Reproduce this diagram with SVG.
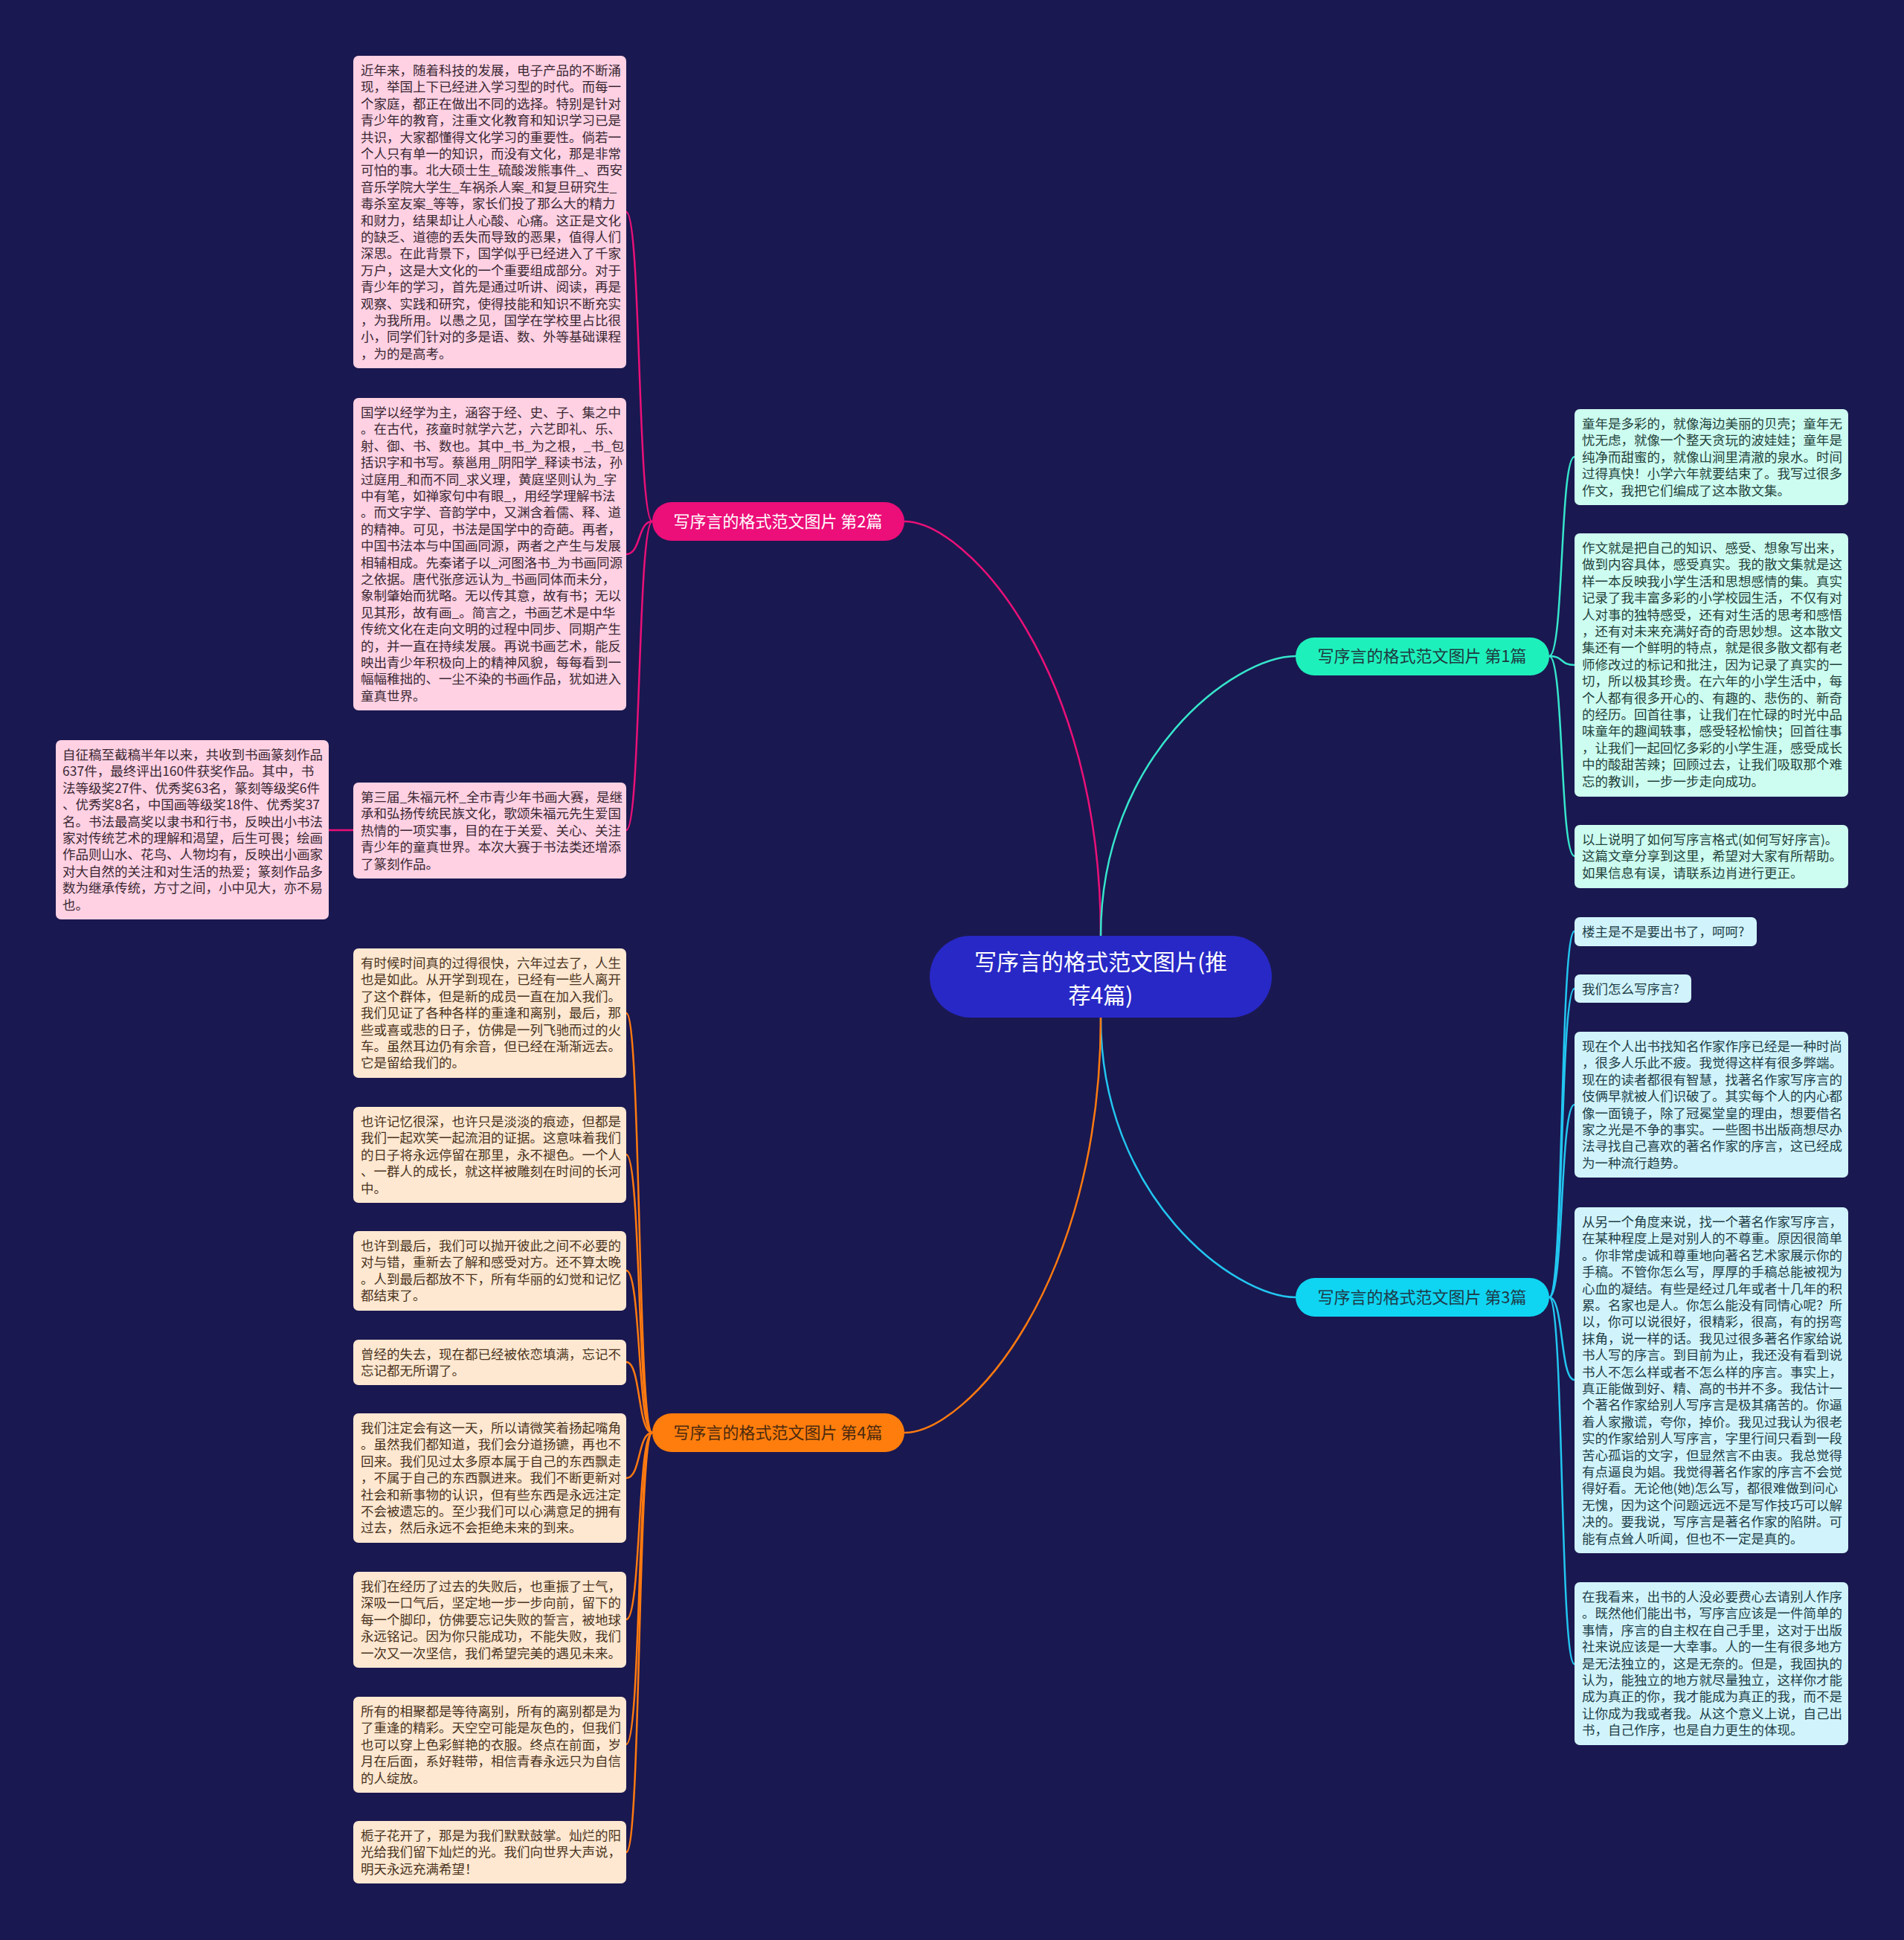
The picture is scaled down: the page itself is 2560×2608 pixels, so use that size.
<svg xmlns="http://www.w3.org/2000/svg" width="2560" height="2608" viewBox="0 0 2560 2608">
<style>
.t{font-family:"Noto Sans CJK SC","Noto Sans",sans-serif;font-size:17.5px;}
.tp{fill:#3a2833;}
.to{fill:#4a3422;}
.tg{fill:#24423c;}
.tc{fill:#223f48;}
.bp{fill:#ffd1e3;}
.bo{fill:#ffe8d1;}
.bg{fill:#cdfdf0;}
.bc{fill:#d1f4fc;}
.lbl{font-family:"Noto Sans CJK SC","Noto Sans",sans-serif;font-size:22px;text-anchor:middle;}
.c{fill:none;stroke-width:2.5;}
</style>
<rect x="0" y="0" width="2560" height="2608" fill="#1a1850"/>
<g id="connectors">
<path class="c" stroke="#ea1078" d="M1216,701 C1300,701 1480,900 1480,1258"/>
<path class="c" stroke="#36e6cc" d="M1743,882 C1659,882 1480,1017 1480,1258"/>
<path class="c" stroke="#22c6f0" d="M1743,1744 C1659,1744 1480,1609 1480,1368"/>
<path class="c" stroke="#ff7a10" d="M1216,1926 C1300,1926 1480,1726 1480,1368"/>
<g stroke="#ea1078" class="c">
<path d="M877,701 C857,701 862,285 842,285"/>
<path d="M877,701 C857,701 862,745 842,745"/>
<path d="M877,701 C857,701 862,1116 842,1116"/>
<path d="M475,1116 L442,1116"/>
</g>
<g stroke="#ff7a10" class="c">
<path d="M877,1926 C857,1926 862,1362 842,1362"/>
<path d="M877,1926 C857,1926 862,1552 842,1552"/>
<path d="M877,1926 C857,1926 862,1708 842,1708"/>
<path d="M877,1926 C857,1926 862,1831 842,1831"/>
<path d="M877,1926 C857,1926 862,1987 842,1987"/>
<path d="M877,1926 C857,1926 862,2177 842,2177"/>
<path d="M877,1926 C857,1926 862,2345 842,2345"/>
<path d="M877,1926 C857,1926 862,2490 842,2490"/>
</g>
<g stroke="#36e6cc" class="c">
<path d="M2083,882 C2103,882 2097,614 2117,614"/>
<path d="M2083,882 C2103,882 2097,894 2117,894"/>
<path d="M2083,882 C2103,882 2097,1151 2117,1151"/>
</g>
<g stroke="#22c6f0" class="c">
<path d="M2083,1744 C2103,1744 2097,1252 2117,1252"/>
<path d="M2083,1744 C2103,1744 2097,1329 2117,1329"/>
<path d="M2083,1744 C2103,1744 2097,1485 2117,1485"/>
<path d="M2083,1744 C2103,1744 2097,1855 2117,1855"/>
<path d="M2083,1744 C2103,1744 2097,2237 2117,2237"/>
</g>
</g>
<g id="root">
<rect x="1250" y="1258" width="460" height="110" rx="55" fill="#2828c6"/>
<text x="1480" y="1304" fill="#ffffff" font-family="'Noto Sans CJK SC','Noto Sans',sans-serif" font-size="30" text-anchor="middle">写序言的格式范文图片(推</text>
<text x="1480" y="1349" fill="#ffffff" font-family="'Noto Sans CJK SC','Noto Sans',sans-serif" font-size="30" text-anchor="middle">荐4篇)</text>
</g>
<g id="b2">
<rect x="877" y="675" width="339" height="52" rx="26" fill="#ec0e79"/>
<text class="lbl" x="1046" y="709" fill="#ffffff">写序言的格式范文图片 第2篇</text>
</g>
<g id="b1">
<rect x="1742" y="857" width="341" height="51" rx="25" fill="#1ef0bc"/>
<text class="lbl" x="1912" y="890" fill="#1e3a40">写序言的格式范文图片 第1篇</text>
</g>
<g id="b3">
<rect x="1742" y="1718" width="341" height="52" rx="26" fill="#0fd4f2"/>
<text class="lbl" x="1912" y="1752" fill="#1e3a48">写序言的格式范文图片 第3篇</text>
</g>
<g id="b4">
<rect x="877" y="1900" width="339" height="52" rx="26" fill="#ff7d0c"/>
<text class="lbl" x="1046" y="1934" fill="#4a2a10">写序言的格式范文图片 第4篇</text>
</g>
<g id="p1">
<rect class="bp" x="475" y="75" width="367" height="420" rx="7"/>
<text class="t tp" x="485" y="101"><tspan x="485">近年来，随着科技的发展，电子产品的不断涌</tspan><tspan x="485" dy="22.4">现，举国上下已经进入学习型的时代。而每一</tspan><tspan x="485" dy="22.4">个家庭，都正在做出不同的选择。特别是针对</tspan><tspan x="485" dy="22.4">青少年的教育，注重文化教育和知识学习已是</tspan><tspan x="485" dy="22.4">共识，大家都懂得文化学习的重要性。倘若一</tspan><tspan x="485" dy="22.4">个人只有单一的知识，而没有文化，那是非常</tspan><tspan x="485" dy="22.4">可怕的事。北大硕士生_硫酸泼熊事件_、西安</tspan><tspan x="485" dy="22.4">音乐学院大学生_车祸杀人案_和复旦研究生_</tspan><tspan x="485" dy="22.4">毒杀室友案_等等，家长们投了那么大的精力</tspan><tspan x="485" dy="22.4">和财力，结果却让人心酸、心痛。这正是文化</tspan><tspan x="485" dy="22.4">的缺乏、道德的丢失而导致的恶果，值得人们</tspan><tspan x="485" dy="22.4">深思。在此背景下，国学似乎已经进入了千家</tspan><tspan x="485" dy="22.4">万户，这是大文化的一个重要组成部分。对于</tspan><tspan x="485" dy="22.4">青少年的学习，首先是通过听讲、阅读，再是</tspan><tspan x="485" dy="22.4">观察、实践和研究，使得技能和知识不断充实</tspan><tspan x="485" dy="22.4">，为我所用。以愚之见，国学在学校里占比很</tspan><tspan x="485" dy="22.4">小，同学们针对的多是语、数、外等基础课程</tspan><tspan x="485" dy="22.4">，为的是高考。</tspan></text>
</g>
<g id="p2">
<rect class="bp" x="475" y="535" width="367" height="420" rx="7"/>
<text class="t tp" x="485" y="561"><tspan x="485">国学以经学为主，涵容于经、史、子、集之中</tspan><tspan x="485" dy="22.4">。在古代，孩童时就学六艺，六艺即礼、乐、</tspan><tspan x="485" dy="22.4">射、御、书、数也。其中_书_为之根，_书_包</tspan><tspan x="485" dy="22.4">括识字和书写。蔡邕用_阴阳学_释读书法，孙</tspan><tspan x="485" dy="22.4">过庭用_和而不同_求义理，黄庭坚则认为_字</tspan><tspan x="485" dy="22.4">中有笔，如禅家句中有眼_，用经学理解书法</tspan><tspan x="485" dy="22.4">。而文字学、音韵学中，又渊含着儒、释、道</tspan><tspan x="485" dy="22.4">的精神。可见，书法是国学中的奇葩。再者，</tspan><tspan x="485" dy="22.4">中国书法本与中国画同源，两者之产生与发展</tspan><tspan x="485" dy="22.4">相辅相成。先秦诸子以_河图洛书_为书画同源</tspan><tspan x="485" dy="22.4">之依据。唐代张彦远认为_书画同体而未分，</tspan><tspan x="485" dy="22.4">象制肇始而犹略。无以传其意，故有书；无以</tspan><tspan x="485" dy="22.4">见其形，故有画_。简言之，书画艺术是中华</tspan><tspan x="485" dy="22.4">传统文化在走向文明的过程中同步、同期产生</tspan><tspan x="485" dy="22.4">的，并一直在持续发展。再说书画艺术，能反</tspan><tspan x="485" dy="22.4">映出青少年积极向上的精神风貌，每每看到一</tspan><tspan x="485" dy="22.4">幅幅稚拙的、一尘不染的书画作品，犹如进入</tspan><tspan x="485" dy="22.4">童真世界。</tspan></text>
</g>
<g id="p3">
<rect class="bp" x="475" y="1052" width="367" height="129" rx="7"/>
<text class="t tp" x="485" y="1078"><tspan x="485">第三届_朱福元杯_全市青少年书画大赛，是继</tspan><tspan x="485" dy="22.4">承和弘扬传统民族文化，歌颂朱福元先生爱国</tspan><tspan x="485" dy="22.4">热情的一项实事，目的在于关爱、关心、关注</tspan><tspan x="485" dy="22.4">青少年的童真世界。本次大赛于书法类还增添</tspan><tspan x="485" dy="22.4">了篆刻作品。</tspan></text>
</g>
<g id="p3a">
<rect class="bp" x="75" y="995" width="367" height="241" rx="7"/>
<text class="t tp" x="84" y="1021"><tspan x="84">自征稿至截稿半年以来，共收到书画篆刻作品</tspan><tspan x="84" dy="22.4">637件，最终评出160件获奖作品。其中，书</tspan><tspan x="84" dy="22.4">法等级奖27件、优秀奖63名，篆刻等级奖6件</tspan><tspan x="84" dy="22.4">、优秀奖8名，中国画等级奖18件、优秀奖37</tspan><tspan x="84" dy="22.4">名。书法最高奖以隶书和行书，反映出小书法</tspan><tspan x="84" dy="22.4">家对传统艺术的理解和渴望，后生可畏；绘画</tspan><tspan x="84" dy="22.4">作品则山水、花鸟、人物均有，反映出小画家</tspan><tspan x="84" dy="22.4">对大自然的关注和对生活的热爱；篆刻作品多</tspan><tspan x="84" dy="22.4">数为继承传统，方寸之间，小中见大，亦不易</tspan><tspan x="84" dy="22.4">也。</tspan></text>
</g>
<g id="o1">
<rect class="bo" x="475" y="1275" width="367" height="174" rx="7"/>
<text class="t to" x="485" y="1301"><tspan x="485">有时候时间真的过得很快，六年过去了，人生</tspan><tspan x="485" dy="22.4">也是如此。从开学到现在，已经有一些人离开</tspan><tspan x="485" dy="22.4">了这个群体，但是新的成员一直在加入我们。</tspan><tspan x="485" dy="22.4">我们见证了各种各样的重逢和离别，最后，那</tspan><tspan x="485" dy="22.4">些或喜或悲的日子，仿佛是一列飞驰而过的火</tspan><tspan x="485" dy="22.4">车。虽然耳边仍有余音，但已经在渐渐远去。</tspan><tspan x="485" dy="22.4">它是留给我们的。</tspan></text>
</g>
<g id="o2">
<rect class="bo" x="475" y="1488" width="367" height="129" rx="7"/>
<text class="t to" x="485" y="1514"><tspan x="485">也许记忆很深，也许只是淡淡的痕迹，但都是</tspan><tspan x="485" dy="22.4">我们一起欢笑一起流泪的证据。这意味着我们</tspan><tspan x="485" dy="22.4">的日子将永远停留在那里，永不褪色。一个人</tspan><tspan x="485" dy="22.4">、一群人的成长，就这样被雕刻在时间的长河</tspan><tspan x="485" dy="22.4">中。</tspan></text>
</g>
<g id="o3">
<rect class="bo" x="475" y="1655" width="367" height="107" rx="7"/>
<text class="t to" x="485" y="1681"><tspan x="485">也许到最后，我们可以抛开彼此之间不必要的</tspan><tspan x="485" dy="22.4">对与错，重新去了解和感受对方。还不算太晚</tspan><tspan x="485" dy="22.4">。人到最后都放不下，所有华丽的幻觉和记忆</tspan><tspan x="485" dy="22.4">都结束了。</tspan></text>
</g>
<g id="o4">
<rect class="bo" x="475" y="1801" width="367" height="61" rx="7"/>
<text class="t to" x="485" y="1827"><tspan x="485">曾经的失去，现在都已经被依恋填满，忘记不</tspan><tspan x="485" dy="22.4">忘记都无所谓了。</tspan></text>
</g>
<g id="o5">
<rect class="bo" x="475" y="1900" width="367" height="174" rx="7"/>
<text class="t to" x="485" y="1926"><tspan x="485">我们注定会有这一天，所以请微笑着扬起嘴角</tspan><tspan x="485" dy="22.4">。虽然我们都知道，我们会分道扬镳，再也不</tspan><tspan x="485" dy="22.4">回来。我们见过太多原本属于自己的东西飘走</tspan><tspan x="485" dy="22.4">，不属于自己的东西飘进来。我们不断更新对</tspan><tspan x="485" dy="22.4">社会和新事物的认识，但有些东西是永远注定</tspan><tspan x="485" dy="22.4">不会被遗忘的。至少我们可以心满意足的拥有</tspan><tspan x="485" dy="22.4">过去，然后永远不会拒绝未来的到来。</tspan></text>
</g>
<g id="o6">
<rect class="bo" x="475" y="2113" width="367" height="129" rx="7"/>
<text class="t to" x="485" y="2139"><tspan x="485">我们在经历了过去的失败后，也重振了士气，</tspan><tspan x="485" dy="22.4">深吸一口气后，坚定地一步一步向前，留下的</tspan><tspan x="485" dy="22.4">每一个脚印，仿佛要忘记失败的誓言，被地球</tspan><tspan x="485" dy="22.4">永远铭记。因为你只能成功，不能失败，我们</tspan><tspan x="485" dy="22.4">一次又一次坚信，我们希望完美的遇见未来。</tspan></text>
</g>
<g id="o7">
<rect class="bo" x="475" y="2281" width="367" height="129" rx="7"/>
<text class="t to" x="485" y="2307"><tspan x="485">所有的相聚都是等待离别，所有的离别都是为</tspan><tspan x="485" dy="22.4">了重逢的精彩。天空空可能是灰色的，但我们</tspan><tspan x="485" dy="22.4">也可以穿上色彩鲜艳的衣服。终点在前面，岁</tspan><tspan x="485" dy="22.4">月在后面，系好鞋带，相信青春永远只为自信</tspan><tspan x="485" dy="22.4">的人绽放。</tspan></text>
</g>
<g id="o8">
<rect class="bo" x="475" y="2448" width="367" height="84" rx="7"/>
<text class="t to" x="485" y="2474"><tspan x="485">栀子花开了，那是为我们默默鼓掌。灿烂的阳</tspan><tspan x="485" dy="22.4">光给我们留下灿烂的光。我们向世界大声说，</tspan><tspan x="485" dy="22.4">明天永远充满希望！</tspan></text>
</g>
<g id="r1">
<rect class="bg" x="2117" y="550" width="368" height="129" rx="7"/>
<text class="t tg" x="2127" y="576"><tspan x="2127">童年是多彩的，就像海边美丽的贝壳；童年无</tspan><tspan x="2127" dy="22.4">忧无虑，就像一个整天贪玩的波娃娃；童年是</tspan><tspan x="2127" dy="22.4">纯净而甜蜜的，就像山涧里清澈的泉水。时间</tspan><tspan x="2127" dy="22.4">过得真快！小学六年就要结束了。我写过很多</tspan><tspan x="2127" dy="22.4">作文，我把它们编成了这本散文集。</tspan></text>
</g>
<g id="r2">
<rect class="bg" x="2117" y="717" width="368" height="354" rx="7"/>
<text class="t tg" x="2127" y="743"><tspan x="2127">作文就是把自己的知识、感受、想象写出来，</tspan><tspan x="2127" dy="22.4">做到内容具体，感受真实。我的散文集就是这</tspan><tspan x="2127" dy="22.4">样一本反映我小学生活和思想感情的集。真实</tspan><tspan x="2127" dy="22.4">记录了我丰富多彩的小学校园生活，不仅有对</tspan><tspan x="2127" dy="22.4">人对事的独特感受，还有对生活的思考和感悟</tspan><tspan x="2127" dy="22.4">，还有对未来充满好奇的奇思妙想。这本散文</tspan><tspan x="2127" dy="22.4">集还有一个鲜明的特点，就是很多散文都有老</tspan><tspan x="2127" dy="22.4">师修改过的标记和批注，因为记录了真实的一</tspan><tspan x="2127" dy="22.4">切，所以极其珍贵。在六年的小学生活中，每</tspan><tspan x="2127" dy="22.4">个人都有很多开心的、有趣的、悲伤的、新奇</tspan><tspan x="2127" dy="22.4">的经历。回首往事，让我们在忙碌的时光中品</tspan><tspan x="2127" dy="22.4">味童年的趣闻轶事，感受轻松愉快；回首往事</tspan><tspan x="2127" dy="22.4">，让我们一起回忆多彩的小学生涯，感受成长</tspan><tspan x="2127" dy="22.4">中的酸甜苦辣；回顾过去，让我们吸取那个难</tspan><tspan x="2127" dy="22.4">忘的教训，一步一步走向成功。</tspan></text>
</g>
<g id="r3">
<rect class="bg" x="2117" y="1109" width="368" height="85" rx="7"/>
<text class="t tg" x="2127" y="1135"><tspan x="2127">以上说明了如何写序言格式(如何写好序言)。</tspan><tspan x="2127" dy="22.4">这篇文章分享到这里，希望对大家有所帮助。</tspan><tspan x="2127" dy="22.4">如果信息有误，请联系边肖进行更正。</tspan></text>
</g>
<g id="r4">
<rect class="bc" x="2117" y="1233" width="245" height="39" rx="7"/>
<text class="t tc" x="2127" y="1259">楼主是不是要出书了，呵呵?</text>
</g>
<g id="r5">
<rect class="bc" x="2117" y="1310" width="157" height="38" rx="7"/>
<text class="t tc" x="2127" y="1336">我们怎么写序言?</text>
</g>
<g id="r6">
<rect class="bc" x="2117" y="1387" width="368" height="196" rx="7"/>
<text class="t tc" x="2127" y="1413"><tspan x="2127">现在个人出书找知名作家作序已经是一种时尚</tspan><tspan x="2127" dy="22.4">，很多人乐此不疲。我觉得这样有很多弊端。</tspan><tspan x="2127" dy="22.4">现在的读者都很有智慧，找著名作家写序言的</tspan><tspan x="2127" dy="22.4">伎俩早就被人们识破了。其实每个人的内心都</tspan><tspan x="2127" dy="22.4">像一面镜子，除了冠冕堂皇的理由，想要借名</tspan><tspan x="2127" dy="22.4">家之光是不争的事实。一些图书出版商想尽办</tspan><tspan x="2127" dy="22.4">法寻找自己喜欢的著名作家的序言，这已经成</tspan><tspan x="2127" dy="22.4">为一种流行趋势。</tspan></text>
</g>
<g id="r7">
<rect class="bc" x="2117" y="1623" width="368" height="465" rx="7"/>
<text class="t tc" x="2127" y="1649"><tspan x="2127">从另一个角度来说，找一个著名作家写序言，</tspan><tspan x="2127" dy="22.4">在某种程度上是对别人的不尊重。原因很简单</tspan><tspan x="2127" dy="22.4">。你非常虔诚和尊重地向著名艺术家展示你的</tspan><tspan x="2127" dy="22.4">手稿。不管你怎么写，厚厚的手稿总能被视为</tspan><tspan x="2127" dy="22.4">心血的凝结。有些是经过几年或者十几年的积</tspan><tspan x="2127" dy="22.4">累。名家也是人。你怎么能没有同情心呢？所</tspan><tspan x="2127" dy="22.4">以，你可以说很好，很精彩，很高，有的拐弯</tspan><tspan x="2127" dy="22.4">抹角，说一样的话。我见过很多著名作家给说</tspan><tspan x="2127" dy="22.4">书人写的序言。到目前为止，我还没有看到说</tspan><tspan x="2127" dy="22.4">书人不怎么样或者不怎么样的序言。事实上，</tspan><tspan x="2127" dy="22.4">真正能做到好、精、高的书并不多。我估计一</tspan><tspan x="2127" dy="22.4">个著名作家给别人写序言是极其痛苦的。你逼</tspan><tspan x="2127" dy="22.4">着人家撒谎，夸你，掉价。我见过我认为很老</tspan><tspan x="2127" dy="22.4">实的作家给别人写序言，字里行间只看到一段</tspan><tspan x="2127" dy="22.4">苦心孤诣的文字，但显然言不由衷。我总觉得</tspan><tspan x="2127" dy="22.4">有点逼良为娼。我觉得著名作家的序言不会觉</tspan><tspan x="2127" dy="22.4">得好看。无论他(她)怎么写，都很难做到问心</tspan><tspan x="2127" dy="22.4">无愧，因为这个问题远远不是写作技巧可以解</tspan><tspan x="2127" dy="22.4">决的。要我说，写序言是著名作家的陷阱。可</tspan><tspan x="2127" dy="22.4">能有点耸人听闻，但也不一定是真的。</tspan></text>
</g>
<g id="r8">
<rect class="bc" x="2117" y="2127" width="368" height="219" rx="7"/>
<text class="t tc" x="2127" y="2153"><tspan x="2127">在我看来，出书的人没必要费心去请别人作序</tspan><tspan x="2127" dy="22.4">。既然他们能出书，写序言应该是一件简单的</tspan><tspan x="2127" dy="22.4">事情，序言的自主权在自己手里，这对于出版</tspan><tspan x="2127" dy="22.4">社来说应该是一大幸事。人的一生有很多地方</tspan><tspan x="2127" dy="22.4">是无法独立的，这是无奈的。但是，我固执的</tspan><tspan x="2127" dy="22.4">认为，能独立的地方就尽量独立，这样你才能</tspan><tspan x="2127" dy="22.4">成为真正的你，我才能成为真正的我，而不是</tspan><tspan x="2127" dy="22.4">让你成为我或者我。从这个意义上说，自己出</tspan><tspan x="2127" dy="22.4">书，自己作序，也是自力更生的体现。</tspan></text>
</g>
</svg>
